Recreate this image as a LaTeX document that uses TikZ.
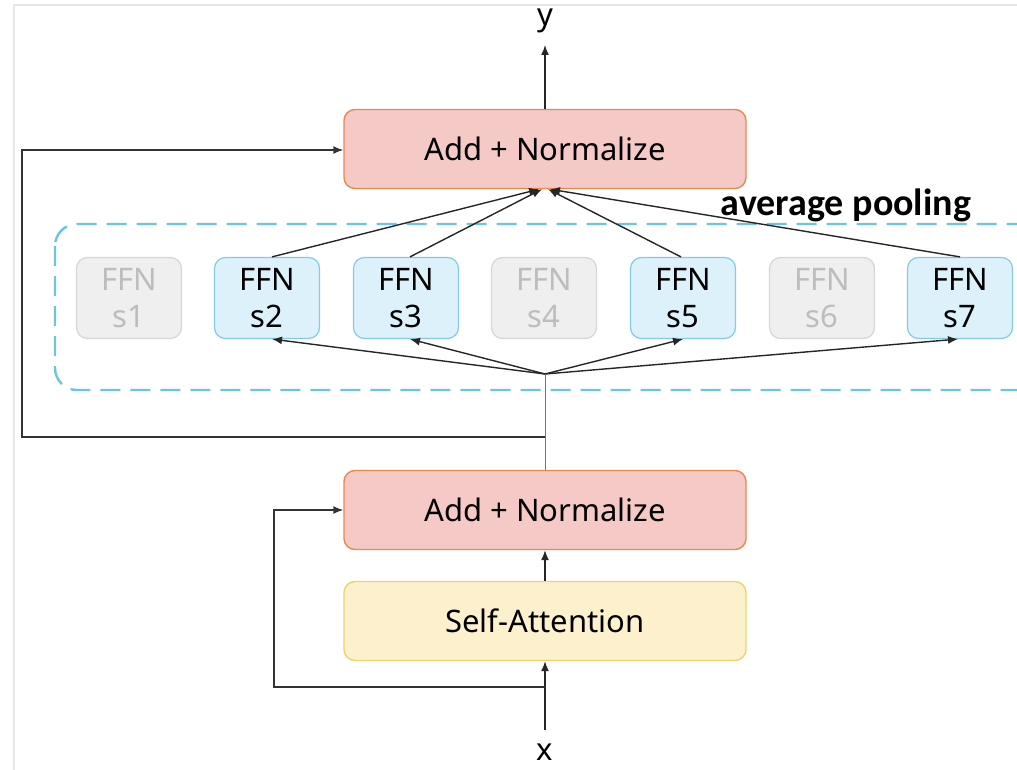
\documentclass[tikz,border=0pt]{standalone}
\usepackage{fontspec}
\setmainfont{Noto Sans}
\newfontfamily\boldfont{Carlito}
\usetikzlibrary{arrows.meta}
\definecolor{pinkfill}{HTML}{F5C9C6}
\definecolor{pinkdraw}{HTML}{E58A4E}
\definecolor{yelfill}{HTML}{FDF1CD}
\definecolor{yeldraw}{HTML}{EBD36E}
\definecolor{bluefill}{HTML}{DDF1FA}
\definecolor{bluedraw}{HTML}{84CBE2}
\definecolor{grayfill}{HTML}{EFEFEF}
\definecolor{graydraw}{HTML}{D6D6D6}
\definecolor{graytext}{HTML}{BDBDBD}
\definecolor{dashcol}{HTML}{6CC5E0}
\definecolor{framecol}{HTML}{E6E6E6}
\tikzset{
  bigbox/.style={draw=#1, line width=1.4pt, rounded corners=11pt, minimum width=402pt, minimum height=79pt, font=\fontsize{31}{36}\selectfont, inner sep=0pt},
  ffnon/.style={draw=bluedraw, fill=bluefill, line width=1.2pt, rounded corners=11pt, minimum width=105pt, minimum height=81pt, align=center, font=\fontsize{31}{37}\selectfont, inner sep=0pt},
  ffnoff/.style={ffnon, draw=graydraw, fill=grayfill, text=graytext},
  conn/.style={line width=1.4pt, black!85},
  arr/.style={conn, -{Latex[length=10pt,width=8pt]}},
  lbl/.style={font=\fontsize{31}{36}\selectfont, inner sep=0pt}
}
\begin{document}
\begin{tikzpicture}[x=1pt,y=-1pt]
\useasboundingbox (0,0) rectangle (1017,770);
\draw[framecol, line width=2pt] (14,770) -- (14,5) -- (1017,5);
% dashed group
\begin{scope}
\clip (0,0) rectangle (1017,770);
\draw[dashcol, line width=2.4pt, dash pattern=on 20pt off 10pt, rounded corners=22pt] (55,224) rectangle (1060,390);
\end{scope}
% main boxes
\node[bigbox=pinkdraw, fill=pinkfill] (an2) at (545,149) {Add + Normalize};
\node[bigbox=pinkdraw, fill=pinkfill] (an1) at (545,510) {Add + Normalize};
\node[bigbox=yeldraw, fill=yelfill] (sa) at (545,621) {Self-Attention};
\node[lbl] (y) at (545,21) {y};
\node[lbl] (x) at (545,752) {x};
\node[font=\boldfont\bfseries\fontsize{38}{42}\selectfont, inner sep=0pt] (avg) at (846,205) {average pooling};
% FFN
\node[ffnoff] (s1) at (129,298) {FFN\\s1};
\node[ffnon]  (s2) at (267,298) {FFN\\s2};
\node[ffnon]  (s3) at (406,298) {FFN\\s3};
\node[ffnoff] (s4) at (544,298) {FFN\\s4};
\node[ffnon]  (s5) at (683,298) {FFN\\s5};
\node[ffnoff] (s6) at (822,298) {FFN\\s6};
\node[ffnon]  (s7) at (960,298) {FFN\\s7};
% coordinates
\coordinate (fan) at (545,374);
\coordinate (res2) at (545,437);
\coordinate (res1) at (545,687);
\coordinate (xin) at (545,730);
% top output
\draw[arr] (an2.north) -- (545,45);
% pooling arrows
\draw[arr] ([xshift=5pt]s2.north) -- ([xshift=-6pt]an2.south);
\draw[arr] ([xshift=4pt]s3.north) -- ([xshift=-3pt]an2.south);
\draw[arr] ([xshift=-2pt]s5.north) -- ([xshift=3pt]an2.south);
\draw[arr] (s7.north) -- ([xshift=5pt]an2.south);
% fan-out arrows
\draw[arr] (fan) -- ([xshift=5pt]s2.south);
\draw[arr] (fan) -- ([xshift=4pt]s3.south);
\draw[arr] (fan) -- ([xshift=0pt]s5.south);
\draw[arr] (fan) -- ([xshift=-2pt]s7.south);
\draw[line width=1pt, black!55] (an1.north) -- (fan);
% residual top
\draw[arr, black!80] (res2) -- (22,437) -- (22,150) -- (an2.west |- 0,150);
% bottom
\draw[arr] (sa.north) -- (an1.south);
\draw[arr] (xin) -- (sa.south);
\draw[arr, black!80] (res1) -- (274,687) -- (274,510) -- (an1.west);
\end{tikzpicture}
\end{document}
